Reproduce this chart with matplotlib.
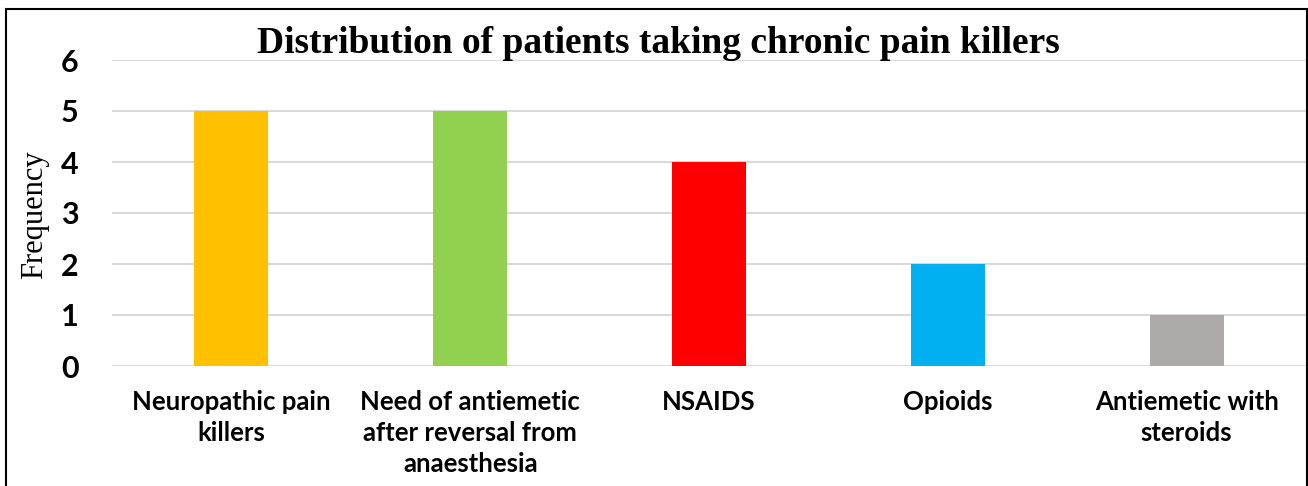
import matplotlib
matplotlib.use("Agg")
from matplotlib import pyplot as plt
from matplotlib.patches import Rectangle

categories = [
    "Neuropathic pain\nkillers",
    "Need of antiemetic\nafter reversal from\nanaesthesia",
    "NSAIDS",
    "Opioids",
    "Antiemetic with\nsteroids",
]
frequency = [5, 5, 4, 2, 1]
bar_colors = ["#FFC000", "#92D050", "#FF0000", "#00B0F0", "#AEAAAA"]
y_ticks = [0, 1, 2, 3, 4, 5, 6]

W, H = 1308, 486
fig = plt.figure(figsize=(W / 100, H / 100), dpi=100)
ax = fig.add_axes([112 / W, 1 - 366 / H, (1306 - 112) / W, (366 - 60) / H])

x = list(range(len(categories)))
ax.bar(x, frequency, width=0.31, color=bar_colors, zorder=3)

ax.set_xlim(-0.5, len(categories) - 0.5)
ax.set_ylim(0, 6)
ax.set_yticks(y_ticks)
ax.set_yticklabels([str(t) for t in y_ticks], fontsize=22, fontweight="bold",
                   family="Lato")
ax.set_xticks(x)
ax.set_xticklabels(categories, fontsize=18.5, fontweight="bold", family="Lato",
                   linespacing=1.36)
ax.tick_params(axis="both", length=0)
ax.tick_params(axis="y", pad=24)
ax.tick_params(axis="x", pad=17)
ax.grid(axis="y", color="#D9D9D9", linewidth=1.5, zorder=0)
for s in ax.spines.values():
    s.set_visible(False)

fig.text(0.503, 1 - 53 / H, "Distribution of patients taking chronic pain killers",
         ha="center", va="baseline", fontsize=27, fontweight="bold",
         family="Liberation Serif")
fig.text(35 / W, 1 - 215 / H, "Frequency", rotation=90, ha="center", va="center",
         fontsize=22, family="Liberation Serif")

# outer frame like the original chart box
fig.patches.append(Rectangle((6 / W, -0.1), (1306.5 - 6) / W, 1.1 - 9.3 / H,
                             transform=fig.transFigure, fill=False,
                             edgecolor="black", linewidth=1.5))

fig.savefig("out.png", dpi=100)
